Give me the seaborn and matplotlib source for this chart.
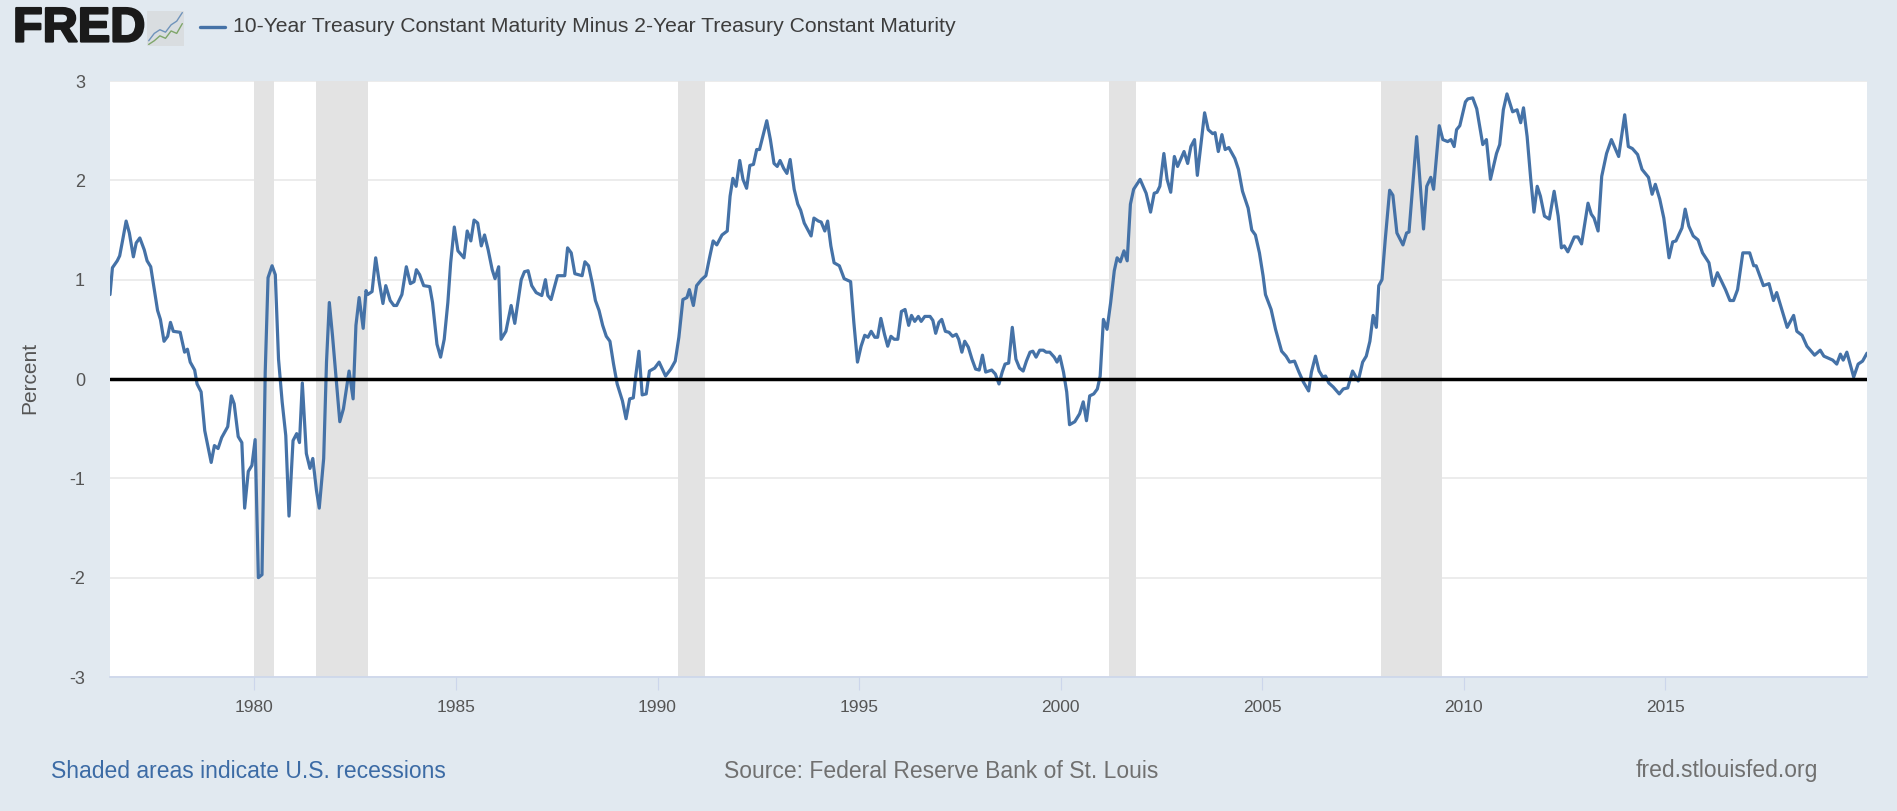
import matplotlib
matplotlib.use("Agg")
import matplotlib.pyplot as plt
import matplotlib.patheffects as pe
import numpy as np
import pandas as pd
import seaborn as sns

# values, by segment
years_70s = [1976.42, 1976.48, 1976.6, 1976.66, 1976.73, 1976.82, 1976.9, 1977.0, 1977.07, 1977.16, 1977.27, 1977.34,
             1977.43, 1977.52, 1977.6, 1977.67, 1977.76, 1977.85, 1977.92, 1977.99, 1978.16, 1978.27, 1978.34, 1978.41,
             1978.52, 1978.58, 1978.68, 1978.77, 1978.86, 1978.93, 1979.01, 1979.1, 1979.19, 1979.34, 1979.43, 1979.5,
             1979.6, 1979.69, 1979.76, 1979.85, 1979.94]
spread_70s = [0.85, 1.12, 1.19, 1.24, 1.39, 1.59, 1.47, 1.23, 1.37, 1.42, 1.30, 1.19,
              1.13, 0.90, 0.69, 0.60, 0.38, 0.43, 0.57, 0.48, 0.47, 0.27, 0.30, 0.17,
              0.09, -0.05, -0.13, -0.52, -0.70, -0.84, -0.67, -0.70, -0.59, -0.48, -0.17, -0.25,
              -0.58, -0.64, -1.30, -0.93, -0.87]

years_80s = [1980.02, 1980.1, 1980.19, 1980.27, 1980.34, 1980.44, 1980.52, 1980.6, 1980.69, 1980.78, 1980.86, 1980.96,
             1981.05, 1981.12, 1981.19, 1981.29, 1981.38, 1981.45, 1981.54, 1981.61, 1981.72, 1981.79, 1981.86, 1981.94,
             1982.03, 1982.12, 1982.21, 1982.35, 1982.45, 1982.52, 1982.6, 1982.7, 1982.77, 1982.81, 1982.92, 1983.01,
             1983.1, 1983.19, 1983.26, 1983.37, 1983.46, 1983.53, 1983.66, 1983.77, 1983.87, 1983.96, 1984.02, 1984.1,
             1984.2, 1984.35, 1984.42, 1984.53, 1984.62, 1984.71, 1984.8, 1984.87, 1984.96, 1985.05, 1985.2, 1985.28,
             1985.37, 1985.45, 1985.54, 1985.63, 1985.71, 1985.8, 1985.9, 1985.97, 1986.06, 1986.12, 1986.24, 1986.37,
             1986.46, 1986.62, 1986.7, 1986.79, 1986.88, 1986.99, 1987.13, 1987.22, 1987.28, 1987.36, 1987.52, 1987.7,
             1987.77, 1987.86, 1987.95, 1988.13, 1988.2, 1988.29, 1988.38, 1988.46, 1988.55, 1988.64, 1988.73, 1988.82,
             1988.91, 1989.0, 1989.13, 1989.22, 1989.31, 1989.4, 1989.46, 1989.54, 1989.62, 1989.72, 1989.8, 1989.93]
spread_80s = [-0.61, -2.0, -1.97, 0.07, 1.02, 1.14, 1.05, 0.2, -0.23, -0.57, -1.38, -0.62,
              -0.55, -0.64, -0.04, -0.75, -0.90, -0.80, -1.12, -1.30, -0.80, 0.17, 0.77, 0.43,
              0.0, -0.43, -0.30, 0.08, -0.20, 0.54, 0.82, 0.51, 0.89, 0.85, 0.88, 1.22,
              0.97, 0.76, 0.94, 0.79, 0.74, 0.74, 0.85, 1.13, 0.96, 0.98, 1.10, 1.05,
              0.94, 0.93, 0.77, 0.35, 0.22, 0.40, 0.77, 1.17, 1.53, 1.29, 1.22, 1.49,
              1.39, 1.60, 1.57, 1.34, 1.45, 1.30, 1.10, 1.01, 1.13, 0.40, 0.48, 0.74,
              0.56, 1.00, 1.08, 1.09, 0.94, 0.87, 0.84, 1.00, 0.84, 0.80, 1.04, 1.04,
              1.32, 1.27, 1.06, 1.04, 1.18, 1.14, 0.97, 0.79, 0.69, 0.54, 0.43, 0.38,
              0.15, -0.05, -0.22, -0.40, -0.20, -0.19, 0.03, 0.28, -0.16, -0.15, 0.08, 0.11]

years_90s = [1990.04, 1990.2, 1990.33, 1990.44, 1990.53, 1990.63, 1990.73, 1990.79, 1990.89, 1990.97, 1991.09, 1991.2,
             1991.29, 1991.38, 1991.47, 1991.6, 1991.73, 1991.8, 1991.87, 1991.95, 1992.04, 1992.12, 1992.21, 1992.29,
             1992.38, 1992.46, 1992.53, 1992.71, 1992.8, 1992.89, 1992.97, 1993.04, 1993.13, 1993.21, 1993.29, 1993.39,
             1993.48, 1993.55, 1993.64, 1993.73, 1993.81, 1993.88, 1993.99, 1994.06, 1994.15, 1994.22, 1994.3, 1994.38,
             1994.51, 1994.63, 1994.79, 1994.87, 1994.96, 1995.05, 1995.14, 1995.22, 1995.3, 1995.39, 1995.46, 1995.54,
             1995.63, 1995.71, 1995.79, 1995.87, 1995.96, 1996.05, 1996.14, 1996.23, 1996.3, 1996.38, 1996.47, 1996.54,
             1996.63, 1996.76, 1996.83, 1996.9, 1996.98, 1997.05, 1997.14, 1997.23, 1997.32, 1997.41, 1997.47, 1997.55,
             1997.62, 1997.71, 1997.8, 1997.89, 1997.98, 1998.06, 1998.14, 1998.29, 1998.38, 1998.47, 1998.55, 1998.62,
             1998.71, 1998.8, 1998.89, 1998.98, 1999.07, 1999.15, 1999.24, 1999.31, 1999.39, 1999.48, 1999.57, 1999.64,
             1999.73, 1999.84, 1999.91, 1999.98]
spread_90s = [0.17, 0.03, 0.10, 0.18, 0.42, 0.80, 0.82, 0.90, 0.74, 0.94, 1.00, 1.04,
              1.22, 1.39, 1.35, 1.45, 1.49, 1.84, 2.02, 1.94, 2.20, 2.01, 1.92, 2.15,
              2.16, 2.31, 2.31, 2.60, 2.41, 2.17, 2.14, 2.20, 2.12, 2.07, 2.21, 1.91,
              1.76, 1.70, 1.57, 1.50, 1.44, 1.62, 1.59, 1.58, 1.49, 1.59, 1.34, 1.17,
              1.14, 1.01, 0.98, 0.57, 0.17, 0.33, 0.44, 0.42, 0.48, 0.42, 0.42, 0.61,
              0.45, 0.33, 0.43, 0.40, 0.40, 0.68, 0.70, 0.54, 0.64, 0.58, 0.63, 0.58,
              0.63, 0.63, 0.59, 0.46, 0.57, 0.60, 0.48, 0.47, 0.43, 0.45, 0.40, 0.27,
              0.38, 0.32, 0.20, 0.10, 0.09, 0.24, 0.07, 0.09, 0.05, -0.05, 0.07, 0.15,
              0.16, 0.52, 0.20, 0.11, 0.08, 0.18, 0.27, 0.28, 0.22, 0.29, 0.29, 0.27,
              0.27, 0.22, 0.17, 0.23]

years_00s = [2000.07, 2000.15, 2000.22, 2000.35, 2000.47, 2000.56, 2000.64, 2000.72, 2000.82, 2000.91, 2000.98, 2001.06,
             2001.15, 2001.24, 2001.33, 2001.4, 2001.48, 2001.57, 2001.65, 2001.73, 2001.81, 2001.97, 2002.12, 2002.23,
             2002.32, 2002.39, 2002.46, 2002.56, 2002.64, 2002.73, 2002.82, 2002.9, 2003.06, 2003.15, 2003.23, 2003.32,
             2003.39, 2003.57, 2003.66, 2003.77, 2003.83, 2003.91, 2004.0, 2004.08, 2004.17, 2004.32, 2004.41, 2004.51,
             2004.65, 2004.74, 2004.83, 2004.93, 2005.02, 2005.08, 2005.22, 2005.33, 2005.48, 2005.59, 2005.68, 2005.8,
             2005.91, 2006.02, 2006.15, 2006.22, 2006.32, 2006.41, 2006.5, 2006.57, 2006.65, 2006.76, 2006.91, 2007.01,
             2007.12, 2007.24, 2007.38, 2007.49, 2007.58, 2007.67, 2007.75, 2007.83, 2007.89, 2007.97, 2008.05, 2008.16,
             2008.24, 2008.34, 2008.49, 2008.58, 2008.64, 2008.83, 2009.0, 2009.08, 2009.18, 2009.25, 2009.39, 2009.48,
             2009.6, 2009.68, 2009.76, 2009.82, 2009.9]
spread_00s = [0.07, -0.13, -0.46, -0.43, -0.35, -0.23, -0.42, -0.17, -0.15, -0.10, 0.03, 0.60,
              0.50, 0.77, 1.09, 1.22, 1.18, 1.29, 1.19, 1.76, 1.91, 2.01, 1.87, 1.68,
              1.87, 1.88, 1.94, 2.27, 2.01, 1.88, 2.24, 2.14, 2.29, 2.17, 2.34, 2.41,
              2.05, 2.68, 2.51, 2.47, 2.48, 2.29, 2.46, 2.31, 2.33, 2.22, 2.11, 1.89,
              1.72, 1.50, 1.45, 1.27, 1.04, 0.85, 0.70, 0.50, 0.28, 0.23, 0.17, 0.18,
              0.07, -0.03, -0.12, 0.07, 0.23, 0.08, 0.02, 0.03, -0.04, -0.08, -0.15, -0.10,
              -0.09, 0.08, -0.02, 0.17, 0.23, 0.38, 0.64, 0.52, 0.94, 1.00, 1.40, 1.90,
              1.85, 1.47, 1.35, 1.47, 1.48, 2.44, 1.51, 1.94, 2.03, 1.91, 2.55, 2.41,
              2.39, 2.41, 2.34, 2.51, 2.55]

years_10s = [2010.04, 2010.1, 2010.22, 2010.32, 2010.47, 2010.56, 2010.66, 2010.81, 2010.89, 2010.98, 2011.07, 2011.21,
             2011.32, 2011.41, 2011.48, 2011.57, 2011.66, 2011.74, 2011.82, 2011.9, 2012.0, 2012.12, 2012.24, 2012.34,
             2012.42, 2012.49, 2012.58, 2012.74, 2012.83, 2012.92, 2013.08, 2013.16, 2013.23, 2013.33, 2013.42, 2013.54,
             2013.66, 2013.84, 2013.99, 2014.08, 2014.18, 2014.31, 2014.42, 2014.58, 2014.67, 2014.75, 2014.86, 2014.96,
             2015.09, 2015.18, 2015.26, 2015.41, 2015.49, 2015.58, 2015.69, 2015.81, 2015.92, 2016.08, 2016.18, 2016.29,
             2016.49, 2016.6, 2016.69, 2016.79, 2016.92, 2017.09, 2017.19, 2017.25, 2017.43, 2017.57, 2017.68, 2017.76,
             2018.02, 2018.18, 2018.26, 2018.39, 2018.51, 2018.7, 2018.84, 2018.93, 2019.15, 2019.25, 2019.34, 2019.41,
             2019.5, 2019.67, 2019.78, 2019.89, 2020.0]
spread_10s = [2.79, 2.82, 2.83, 2.72, 2.36, 2.41, 2.01, 2.27, 2.36, 2.71, 2.87, 2.69,
              2.71, 2.58, 2.73, 2.44, 2.01, 1.68, 1.94, 1.84, 1.64, 1.61, 1.89, 1.64,
              1.32, 1.34, 1.28, 1.43, 1.43, 1.36, 1.77, 1.66, 1.62, 1.49, 2.04, 2.27,
              2.41, 2.24, 2.66, 2.34, 2.32, 2.26, 2.11, 2.03, 1.86, 1.96, 1.81, 1.62,
              1.22, 1.38, 1.39, 1.52, 1.71, 1.54, 1.44, 1.40, 1.27, 1.17, 0.94, 1.07,
              0.90, 0.79, 0.79, 0.90, 1.27, 1.27, 1.14, 1.14, 0.94, 0.96, 0.79, 0.87,
              0.52, 0.64, 0.48, 0.44, 0.33, 0.24, 0.29, 0.23, 0.19, 0.15, 0.25, 0.19,
              0.27, 0.02, 0.15, 0.18, 0.26]

recession_start = [1980.0, 1981.53, 1990.5, 2001.2, 2007.95]
recession_end = [1980.5, 1982.83, 1991.17, 2001.87, 2009.45]

x_ticks = [1980, 1985, 1990, 1995, 2000, 2005, 2010, 2015]
y_ticks = [-3, -2, -1, 0, 1, 2, 3]

series_name = "10-Year Treasury Constant Maturity Minus 2-Year Treasury Constant Maturity"

# small logo icon
icon_x = [0, 1, 2, 3, 4, 5, 6]
icon_blue = [1.0, 2.2, 2.8, 2.4, 3.6, 4.2, 5.6]
icon_green = [0.4, 1.0, 1.8, 1.4, 2.6, 2.2, 3.8]

df = pd.DataFrame({
    "year": years_70s + years_80s + years_90s + years_00s + years_10s,
    "spread": spread_70s + spread_80s + spread_90s + spread_00s + spread_10s,
})

BG = "#e1e9f0"
W, H = 1897, 811

sns.set_theme(style="white")
plt.rcParams["font.family"] = ["Liberation Sans", "DejaVu Sans"]
plt.rcParams["axes.unicode_minus"] = False

fig = plt.figure(figsize=(W / 100, H / 100), dpi=100, facecolor=BG)
ax = fig.add_axes([110 / W, 1 - 677 / H, (1867 - 110) / W, (677 - 81) / H], facecolor="white")

ax.grid(axis="y", color="#e9e9e9", lw=1.2)
ax.set_axisbelow(True)
for a, b in zip(recession_start, recession_end):
    ax.axvspan(a, b, color="#e3e3e3", lw=0, zorder=1)

sns.lineplot(data=df, x="year", y="spread", ax=ax, color="#4572a7", lw=2.3, estimator=None, zorder=3)
ax.axhline(0, color="black", lw=2.5, zorder=4)

ax.set_xlim(1976.42, 2020.0)
ax.set_ylim(-3, 3)
ax.set_xticks(x_ticks)
ax.set_xticklabels([str(t) for t in x_ticks])
ax.set_yticks(y_ticks)
ax.set_yticklabels([str(t) for t in y_ticks])
ax.tick_params(axis="x", length=9.5, width=0.8, color="#ccd6eb", labelsize=12.5, labelcolor="#555555", pad=7, bottom=True)
ax.tick_params(axis="y", length=0, labelsize=13, labelcolor="#555555", pad=18)
for side in ["top", "right", "left"]:
    ax.spines[side].set_visible(False)
ax.spines["bottom"].set_color("#ccd6eb")
ax.spines["bottom"].set_linewidth(1.2)
ax.set_xlabel("")
ax.set_ylabel("")

fig.text(30 / W, 1 - 378 / H, "Percent", rotation=90, ha="center", va="center", fontsize=15, color="#555555")

# header
fig.text(13 / W, 1 - 29 / H, "FRED", fontsize=35, fontweight="bold", color="#1a1a1a", ha="left", va="center",
         path_effects=[pe.withStroke(linewidth=1.6, foreground="#1a1a1a")])
icon = fig.add_axes([147 / W, 1 - 46 / H, 37 / W, 35 / H], facecolor="#d9dde0")
icon.plot(icon_x, icon_blue, color="#6f93bb", lw=1)
icon.plot(icon_x, icon_green, color="#7fa66a", lw=1)
icon.set_xticks([])
icon.set_yticks([])
for s in icon.spines.values():
    s.set_visible(False)

fig.add_artist(plt.Line2D([200 / W, 225 / W], [1 - 27 / H, 1 - 27 / H], color="#4572a7", lw=2.4))
fig.text(233 / W, 1 - 27 / H, series_name, fontsize=15.2, color="#3d3d3d", ha="left", va="center")

# footer
fig.text(51 / W, 1 - 771 / H, "Shaded areas indicate U.S. recessions", fontsize=16.5, color="#3c6ba5", ha="left",
         va="center")
fig.text(724 / W, 1 - 771 / H, "Source: Federal Reserve Bank of St. Louis", fontsize=16.5, color="#707070", ha="left",
         va="center")
fig.text(1818 / W, 1 - 771 / H, "fred.stlouisfed.org", fontsize=16.5, color="#707070", ha="right", va="center")

fig.savefig("out.png", dpi=100, facecolor=BG)
